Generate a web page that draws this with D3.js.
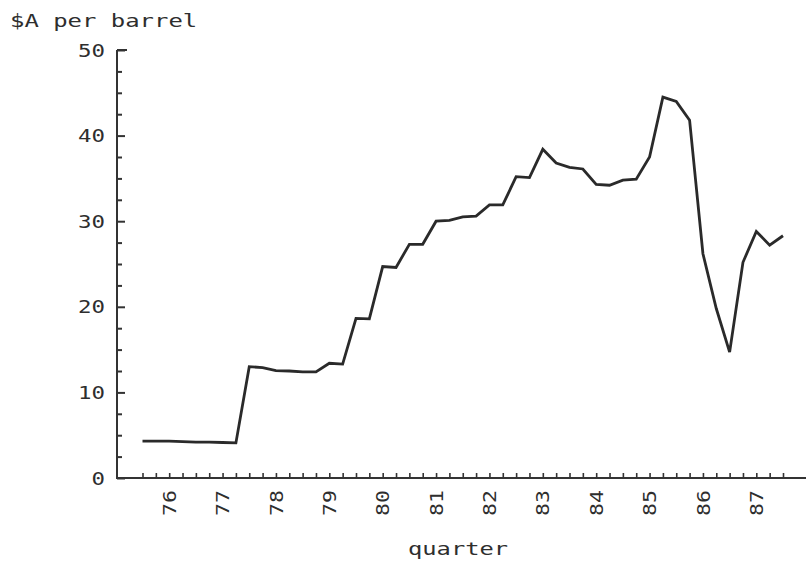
<!DOCTYPE html>
<html>
<head>
<meta charset="utf-8">
<script src="https://cdn.jsdelivr.net/npm/d3@7"></script>
<style>
  html, body { margin: 0; padding: 0; background: #ffffff; }
  svg { display: block; }
  text { font-family: "DejaVu Sans Mono", "Liberation Mono", monospace; fill: #2e2e2e; }
</style>
</head>
<body>
<svg id="chart" width="806" height="566"></svg>
<script>
// Quarterly crude price, Australian dollars per barrel
const quarters = [
  "75Q3","75Q4",
  "76Q1","76Q2","76Q3","76Q4",
  "77Q1","77Q2","77Q3","77Q4",
  "78Q1","78Q2","78Q3","78Q4",
  "79Q1","79Q2","79Q3","79Q4",
  "80Q1","80Q2","80Q3","80Q4",
  "81Q1","81Q2","81Q3","81Q4",
  "82Q1","82Q2","82Q3","82Q4",
  "83Q1","83Q2","83Q3","83Q4",
  "84Q1","84Q2","84Q3","84Q4",
  "85Q1","85Q2","85Q3","85Q4",
  "86Q1","86Q2","86Q3","86Q4",
  "87Q1","87Q2","87Q3"
];
const prices = [
  4.3, 4.3,
  4.3, 4.25, 4.2, 4.2,
  4.15, 4.1, 13.0, 12.9,
  12.55, 12.5, 12.4, 12.4,
  13.4, 13.3, 18.65, 18.6,
  24.7, 24.6, 27.3, 27.3,
  30.0, 30.1, 30.5, 30.6,
  31.9, 31.9, 35.2, 35.1,
  38.4, 36.8, 36.3, 36.1,
  34.3, 34.2, 34.8, 34.9,
  37.5, 44.5, 44.0, 41.8,
  26.2, 19.8, 14.7, 25.2,
  28.8, 27.2, 28.3
];
const yearLabels = ["76","77","78","79","80","81","82","83","84","85","86","87"];
const yearQuarters = ["76Q1","77Q1","78Q1","79Q1","80Q1","81Q1","82Q1","83Q1","84Q1","85Q1","86Q1","87Q1"];
const yMajorTicks = [0, 10, 20, 30, 40, 50];
const yMinorTicks = [2.5, 5, 7.5, 12.5, 15, 17.5, 22.5, 25, 27.5, 32.5, 35, 37.5, 42.5, 45, 47.5];

const svg = d3.select("#chart");
const axisX0 = 117, axisRight = 806, axisY0 = 478;

const x = d3.scaleLinear().domain([0, quarters.length - 1]).range([142.5, 783]);
const y = d3.scaleLinear().domain([0, 50]).range([axisY0, 50]);
const xq = q => x(quarters.indexOf(q));

// stretch monospace glyphs to the wide plotter lettering
function stretch(sel, perChar) {
  sel.attr("textLength", function () { return this.textContent.length * perChar; })
     .attr("lengthAdjust", "spacingAndGlyphs");
}

// y axis: major ticks with labels, minor ticks between
const yMajor = svg.append("g")
  .attr("transform", `translate(${axisX0},0)`)
  .call(d3.axisLeft(y).tickValues(yMajorTicks).tickSize(-8).tickPadding(12).tickFormat(d3.format("d")));
yMajor.select(".domain").remove();
yMajor.selectAll("line").attr("stroke", "#333").attr("stroke-width", 2);
yMajor.selectAll("text").attr("font-size", 17).attr("fill", "#333").attr("dy", "0.36em").call(stretch, 13.5);

const yMinor = svg.append("g")
  .attr("transform", `translate(${axisX0},0)`)
  .call(d3.axisLeft(y).tickValues(yMinorTicks).tickSize(-5).tickFormat(""));
yMinor.select(".domain").remove();
yMinor.selectAll("line").attr("stroke", "#333").attr("stroke-width", 2);

// x axis: a tick every quarter, year labels rotated
const xTicks = svg.append("g")
  .attr("transform", `translate(0,${axisY0})`)
  .call(d3.axisBottom(x).tickValues(d3.range(quarters.length)).tickSize(-5).tickFormat(""));
xTicks.select(".domain").remove();
xTicks.selectAll("line").attr("stroke", "#333").attr("stroke-width", 1.6);

const xLabels = svg.append("g")
  .attr("transform", `translate(0,${axisY0})`)
  .call(d3.axisBottom(x)
    .tickValues(yearQuarters.map(q => quarters.indexOf(q)))
    .tickSize(0)
    .tickFormat(i => yearLabels[yearQuarters.indexOf(quarters[i])]));
xLabels.select(".domain").remove();
xLabels.selectAll("text")
  .attr("font-size", 17).attr("fill", "#333")
  .attr("transform", "rotate(-90)")
  .attr("text-anchor", "end")
  .attr("x", -12).attr("y", 0).attr("dy", "0.36em")
  .call(stretch, 13);

// axis lines
svg.append("line")
  .attr("x1", axisX0).attr("x2", axisX0).attr("y1", y(50)).attr("y2", axisY0 + 1)
  .attr("stroke", "#333").attr("stroke-width", 2);
svg.append("line")
  .attr("x1", axisX0).attr("x2", axisRight).attr("y1", axisY0).attr("y2", axisY0)
  .attr("stroke", "#333").attr("stroke-width", 2.2);
svg.append("line")
  .attr("x1", axisX0).attr("x2", axisX0 + 10).attr("y1", y(50)).attr("y2", y(50))
  .attr("stroke", "#333").attr("stroke-width", 2);

// price series
const line = d3.line().x((d, i) => x(i)).y(d => y(d)).curve(d3.curveLinear);
svg.append("path")
  .datum(prices)
  .attr("d", line)
  .attr("fill", "none")
  .attr("stroke", "#2a2a2a")
  .attr("stroke-width", 2.8)
  .attr("stroke-linejoin", "miter");

// titles
svg.append("text")
  .attr("x", 10).attr("y", 27)
  .attr("font-size", 17)
  .text("$A per barrel")
  .call(stretch, 14.4);

svg.append("text")
  .attr("x", 408).attr("y", 555)
  .attr("font-size", 17)
  .text("quarter")
  .call(stretch, 14.3);
</script>
</body>
</html>
